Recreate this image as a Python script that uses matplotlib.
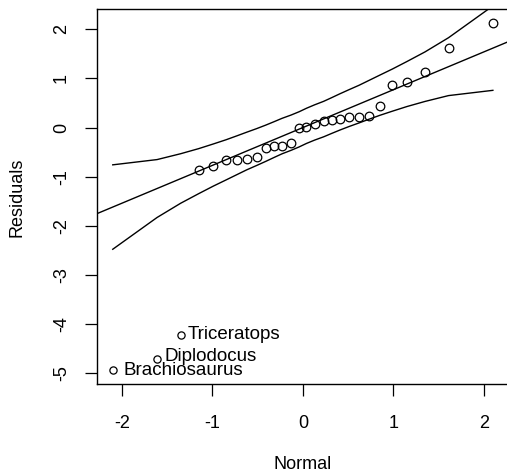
import matplotlib
matplotlib.use("Agg")
import matplotlib.pyplot as plt

# ---- data ----
normal_q = [-2.10, -1.61, -1.35, -1.15, -0.99, -0.85, -0.73, -0.62, -0.51, -0.41,
            -0.32, -0.23, -0.13, -0.04, 0.04, 0.13, 0.23, 0.32, 0.41, 0.51,
            0.62, 0.73, 0.85, 0.99, 1.15, 1.35, 1.61, 2.10]
residuals = [-4.94, -4.71, -4.22, -0.86, -0.78, -0.66, -0.66, -0.64, -0.60, -0.41,
             -0.38, -0.38, -0.32, -0.01, 0.01, 0.08, 0.13, 0.16, 0.18, 0.22,
             0.22, 0.23, 0.43, 0.87, 0.92, 1.14, 1.62, 2.12]
labels = ["Brachiosaurus", "Diplodocus", "Triceratops"]

env_upper = [-0.758, -0.651, -0.532, -0.428, -0.334, -0.249, -0.169, -0.094, -0.021, 0.050,
             0.118, 0.188, 0.255, 0.323, 0.393, 0.463, 0.534, 0.610, 0.688, 0.771,
             0.860, 0.959, 1.067, 1.192, 1.344, 1.540, 1.829, 2.476]
env_lower = [-2.476, -1.829, -1.540, -1.344, -1.192, -1.067, -0.959, -0.860, -0.771, -0.688,
             -0.610, -0.534, -0.463, -0.393, -0.323, -0.255, -0.188, -0.118, -0.050, 0.021,
             0.094, 0.169, 0.249, 0.334, 0.428, 0.532, 0.651, 0.758]
line_intercept = 0.0
line_slope = 0.77

xticks = [-2, -1, 0, 1, 2]
yticks = [-5, -4, -3, -2, -1, 0, 1, 2]

plt.rcParams['font.family'] = ['Liberation Sans', 'DejaVu Sans']

W, H = 507, 473
fig = plt.figure(figsize=(W / 100, H / 100), dpi=100)
left, right, top, bottom = 97, 508, 9.3, 384.3
ax = fig.add_axes([left / W, 1 - bottom / H, (right - left) / W, (bottom - top) / H])

ax.set_xlim(-2.274, 2.267)
ax.set_ylim(-5.224, 2.407)

lw = 1.0
ax.plot(normal_q, env_upper, color='black', lw=lw)
ax.plot(normal_q, env_lower, color='black', lw=lw)
ax.axline((0, line_intercept), slope=line_slope, color='black', lw=lw)

n_lab = len(labels)
ax.plot(normal_q[n_lab:], residuals[n_lab:], 'o', mfc='none', mec='black', ms=6.2, mew=0.9)
ax.plot(normal_q[:n_lab], residuals[:n_lab], 'o', mfc='none', mec='black', ms=5.2, mew=0.9)

offsets = [(8.0, 0.0), (5.0, 1.5), (5.0, 0)]
for i, name in enumerate(labels):
    ax.annotate(name, (normal_q[i], residuals[i]), xytext=offsets[i],
                textcoords='offset points', ha='left', va='center', fontsize=13.5)

ax.set_xticks(xticks)
ax.set_yticks(yticks)
ax.set_xticklabels([str(t) for t in xticks])
ax.set_yticklabels([str(t) for t in yticks])
ax.tick_params(length=8.5, width=0.9, labelsize=13, color='black')
ax.tick_params(axis='x', pad=13.5)
ax.tick_params(axis='y', pad=11)
for lab in ax.get_yticklabels():
    lab.set_rotation(90)
    lab.set_va('center')
    lab.set_ha('right')

for s in ax.spines.values():
    s.set_linewidth(1.0)
ax.spines['right'].set_visible(False)

fig.text(17.3 / W, 1 - 197 / H, "Residuals", rotation=90, ha='center', va='center', fontsize=13)
fig.text(302.8 / W, 1 - 464 / H, "Normal", ha='center', va='center', fontsize=13)

fig.savefig("out.png", dpi=100)
